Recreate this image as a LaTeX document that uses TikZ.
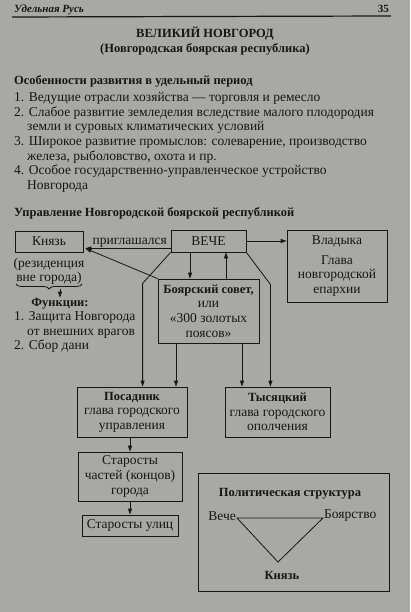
\documentclass[tikz,border=0pt]{standalone}
\usepackage{fontspec}
\setmainfont{Liberation Serif}
\usetikzlibrary{arrows.meta,calc,decorations.pathreplacing}
\definecolor{paper}{RGB}{168,168,165}
\definecolor{ink}{RGB}{22,22,22}
\tikzset{
  txt/.style={inner sep=0pt, text=ink, font=\fontsize{13.5}{14.6}\selectfont},
  btxt/.style={txt, font=\fontsize{12.5}{14.6}\selectfont\bfseries},
  box/.style={draw=ink, line width=0.8pt, text=ink, align=center, inner sep=0pt,
    font=\fontsize{13.5}{14.6}\selectfont},
  con/.style={draw=ink, line width=0.8pt},
  arr/.style={con, -{Triangle[length=6pt,width=4pt]}},
}
\begin{document}
\begin{tikzpicture}[x=1pt,y=-1pt]
\fill[paper] (0,0) rectangle (410,612);
\useasboundingbox (0,0) rectangle (410,612);
% header
\node[txt, anchor=base west, font=\fontsize{11}{13}\selectfont\bfseries\itshape] (hdr) at (14,13) {Удельная Русь};
\node[txt, anchor=base east, font=\fontsize{11}{13}\selectfont\bfseries] (pg) at (389,13) {35};
\draw[ink, line width=1.2pt] (12,17) -- (391,16);
% title
\node[btxt, anchor=base] (title) at (205,38) {ВЕЛИКИЙ НОВГОРОД};
\node[btxt, anchor=base] (subtitle) at (205,53) {(Новгородская боярская республика)};
% features
\node[btxt, anchor=base west] (feat) at (14,85) {Особенности развития в удельный период};
\node[txt, anchor=base west] (l1) at (14,101.7) {1. Ведущие отрасли хозяйства — торговля и ремесло};
\node[txt, anchor=base west] (l2) at (14,116.3) {2. Слабое развитие земледелия вследствие малого плодородия};
\node[txt, anchor=base west] (l2b) at (27,130.9) {земли и суровых климатических условий};
\node[txt, anchor=base west] (l3) at (14,145.5) {3. Широкое развитие промыслов: солеварение, производство};
\node[txt, anchor=base west] (l3b) at (27,160.1) {железа, рыболовство, охота и пр.};
\node[txt, anchor=base west] (l4) at (14,174.7) {4. Особое государственно-управленческое устройство};
\node[txt, anchor=base west] (l4b) at (27,189.3) {Новгорода};
\node[btxt, anchor=base west] (upr) at (14,216.7) {Управление Новгородской боярской республикой};
% diagram boxes
\node[box, minimum width=68pt, minimum height=21pt] (knyaz) at (49,241.5) {Князь};
\node[box, minimum width=75pt, minimum height=22pt] (veche) at (208.5,241) {ВЕЧЕ};
\node[box, minimum width=100pt, minimum height=72pt] (vladyka) at (337,266)
  {Владыка\\[5pt]Глава\\новгородской\\епархии};
\node[box, minimum width=101pt, minimum height=64pt] (sovet) at (208.5,311)
  {\textbf{\fontsize{12.5}{14.6}\selectfont Боярский совет,}\\или\\«300 золотых\\поясов»};
\node[box, minimum width=110pt, minimum height=50pt] (posadnik) at (132,412)
  {\textbf{\fontsize{12.5}{14.6}\selectfont Посадник}\\глава городского\\управления};
\node[box, minimum width=105pt, minimum height=50pt] (tys) at (277.5,412)
  {\textbf{\fontsize{12.5}{14.6}\selectfont Тысяцкий}\\глава городского\\ополчения};
\node[box, minimum width=104pt, minimum height=49pt] (starosty) at (130,476.5)
  {Старосты\\частей (концов)\\города};
\node[box, minimum width=96pt, minimum height=21pt] (ulits) at (130,525.5) {Старосты улиц};
% Knyaz notes
\node[txt, anchor=base] (rez1) at (49,267) {(резиденция};
\node[txt, anchor=base] (rez2) at (49,281) {вне города)};
\draw[con, decorate, decoration={brace, amplitude=5pt, mirror}] (16,284) -- (82,284);
\coordinate (br) at (60,289);
\node[btxt, anchor=base] (func) at (60,306) {Функции:};
\draw[arr] (br) -- (func.north);
\node[txt, anchor=base west] (f1) at (14,320.5) {1. Защита Новгорода};
\node[txt, anchor=base west] (f1b) at (27,335) {от внешних врагов};
\node[txt, anchor=base west] (f2) at (14,349.5) {2. Сбор дани};
% connectors
\coordinate (kt) at ($(knyaz.south east)+(2,-4)$);
\draw[arr] (veche.west |- kt) -- node[txt, above=1pt, pos=0.48] (prig) {приглашался} (kt);
\draw[arr] (sovet.north west) -- (kt);
\draw[arr] (veche.east) -- (vladyka.west |- veche.east);
\draw[arr] ([xshift=-18.5pt]veche.south) -- ([xshift=-18.5pt]veche.south |- sovet.north);
\draw[arr] ([xshift=17.5pt]sovet.north) -- ([xshift=17.5pt]sovet.north |- veche.south);
\draw[arr] (veche.south west) -- ([xshift=-28pt,yshift=-31pt]veche.south west) coordinate (lb) -- (lb |- posadnik.north);
\draw[arr] (veche.south east) -- ([xshift=24pt,yshift=-32pt]veche.south east) coordinate (rb) -- (rb |- tys.north);
\draw[arr] ([xshift=-32.5pt]sovet.south) -- ([xshift=-32.5pt]sovet.south |- posadnik.north);
\draw[arr] ([xshift=33.5pt]sovet.south) -- ([xshift=33.5pt]sovet.south |- tys.north);
\draw[arr] (starosty.north |- posadnik.south) -- (starosty.north);
\draw[arr] (starosty.south) -- (ulits.north);
% political structure
\node[box, minimum width=191pt, minimum height=118pt] (polit) at (293.5,532) {};
\node[btxt, anchor=base] (ptitle) at (290,496) {Политическая структура};
\coordinate (pv) at (237,518);
\coordinate (pb) at (323,518);
\coordinate (pk) at (278,562);
\draw[con] (pv) -- (pb) -- (pk) -- cycle;
\node[txt, anchor=east] (tv) at ($(pv)+(-1,-2)$) {Вече};
\node[txt, anchor=west] (tb) at ($(pb)+(1,-2)$) {Боярство};
\node[btxt, anchor=base] (tk) at (282,579) {Князь};
\end{tikzpicture}
\end{document}
